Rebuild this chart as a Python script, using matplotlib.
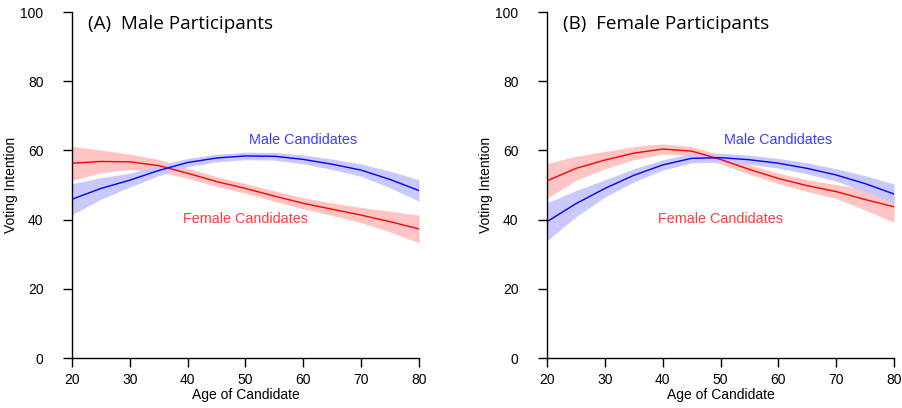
import numpy as np
import matplotlib
matplotlib.use("Agg")
import matplotlib.pyplot as plt

plt.rcParams['font.family'] = ['Liberation Sans', 'DejaVu Sans']

# candidate ages at which the fitted curves are read
ages = [20, 25, 30, 35, 40, 45, 50, 55, 60, 65, 70, 75, 80]

# (A) male participants
a_male = [45.9, 49.0, 51.4, 54.2, 56.5, 57.8, 58.4, 58.3, 57.4, 56.0, 54.3, 51.6, 48.4]
a_male_ci = [4.5, 3.1, 2.0, 1.5, 1.2, 1.1, 1.1, 1.1, 1.3, 1.5, 1.8, 2.4, 3.1]
a_female = [56.3, 56.8, 56.7, 55.6, 53.4, 51.0, 49.0, 46.8, 44.7, 43.0, 41.3, 39.4, 37.3]
a_female_ci = [4.9, 3.3, 2.2, 1.8, 1.5, 1.4, 1.4, 1.5, 1.6, 1.8, 2.2, 3.0, 4.0]

# (B) female participants
b_male = [39.4, 44.6, 49.0, 52.8, 55.8, 57.7, 57.9, 57.3, 56.3, 54.8, 52.9, 50.4, 47.4]
b_male_ci = [5.5, 3.8, 2.5, 1.9, 1.5, 1.3, 1.3, 1.3, 1.4, 1.6, 1.8, 2.3, 2.9]
b_female = [51.2, 54.8, 57.2, 59.2, 60.4, 59.8, 57.4, 54.5, 51.9, 49.8, 48.1, 45.8, 43.7]
b_female_ci = [5.0, 3.5, 2.5, 1.9, 1.5, 1.3, 1.3, 1.4, 1.5, 1.7, 2.0, 3.0, 4.5]

titles = ['(A)  Male Participants', '(B)  Female Participants']
panels = [(a_male, a_male_ci, a_female, a_female_ci),
          (b_male, b_male_ci, b_female, b_female_ci)]

fig = plt.figure(figsize=(9.03, 4.08), dpi=100)
axes = [fig.add_axes([72/903, 1-358/408, 347/903, 346/408]),
        fig.add_axes([547/903, 1-358/408, 347/903, 346/408])]

x = np.array(ages)
for ax, title, (m, mci, f, fci) in zip(axes, titles, panels):
    m, mci, f, fci = map(np.array, (m, mci, f, fci))
    ax.fill_between(x, f - fci, f + fci, color='#ffc4c4', lw=0)
    ax.fill_between(x, m - mci, m + mci, color='#c4c4ff', lw=0, alpha=0.9)
    ax.plot(x, f, color='#ff0000', lw=1)
    ax.plot(x, m, color='#0000ff', lw=1)

    ax.text(60, 63, 'Male Candidates', color='#3c3cff', ha='center', va='center', fontsize=10.4)
    ax.text(50, 40.2, 'Female Candidates', color='#ff3c3c', ha='center', va='center', fontsize=10.4)
    ax.text(22.7, 96.6, title, ha='left', va='center', fontsize=13.6, family=['Open Sans', 'DejaVu Sans'])

    ax.set_xlim(20, 80)
    ax.set_ylim(0, 100)
    ax.set_xticks(range(20, 81, 10))
    ax.set_yticks(range(0, 101, 20))
    for s in ['top', 'right']:
        ax.spines[s].set_visible(False)
    for s in ['left', 'bottom']:
        ax.spines[s].set_linewidth(1)
    ax.tick_params(length=6.5, width=1, labelsize=10, pad=4)
    ax.tick_params(axis='y', pad=14)
    ax.set_xlabel('Age of Candidate', fontsize=10, labelpad=1)
    ax.set_ylabel('Voting Intention', fontsize=10, labelpad=2)

fig.savefig('out.png', dpi=100)
